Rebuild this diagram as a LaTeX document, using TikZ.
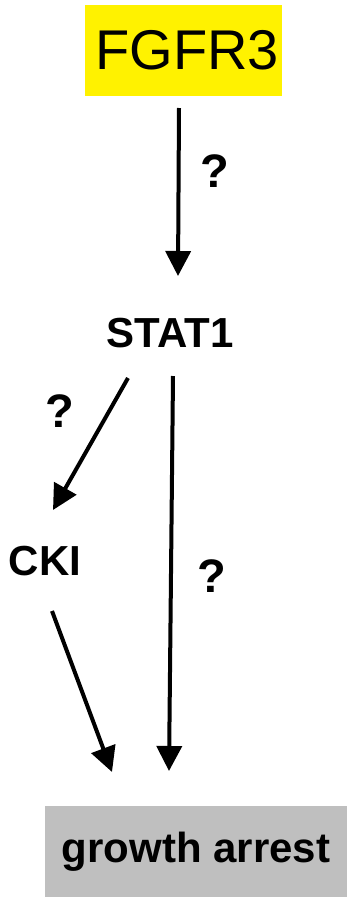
\documentclass[tikz,border=0pt]{standalone}
\usepackage{fontspec}
\setmainfont{Liberation Sans}
\usetikzlibrary{arrows.meta}
\begin{document}
\begin{tikzpicture}[x=1pt,y=-1pt,
  lbl/.style={font=\fontsize{42}{48}\selectfont\bfseries, inner sep=0pt},
  qmark/.style={font=\fontsize{47}{54}\selectfont\bfseries, inner sep=0pt},
  arr/.style={line width=4pt, -{Triangle[width=25pt,length=25pt]}}]
\useasboundingbox (0,0) rectangle (347,897);
\fill[white] (0,0) rectangle (347,897);
\node[fill=yellow, minimum width=197pt, minimum height=91pt, inner sep=0pt,
  font=\fontsize{56}{64}\selectfont] (fgfr) at (183.5,50.5) {\hspace{7pt}FGFR3};
\node[fill=black!25, minimum width=302pt, minimum height=91pt, inner sep=0pt,
  font=\fontsize{42}{48}\selectfont\bfseries] (ga) at (196,851.5) {growth arrest\hspace{9pt}};
\node[lbl] (stat) at (170,333) {STAT1};
\node[lbl] (cki) at (45,561) {CKI};
\node[qmark] (q1) at (214.5,171) {?};
\node[qmark] (q2) at (60,411) {?};
\node[qmark] (q3) at (212,576) {?};
\coordinate (a1s) at (179,108);
\coordinate (a1e) at (178,276);
\coordinate (a2s) at (128,378);
\coordinate (a2e) at (53,510);
\coordinate (a3s) at (173,376);
\coordinate (a3e) at (169,771);
\coordinate (a4s) at (52,611);
\coordinate (a4e) at (112,772);
\draw[arr] (a1s) -- (a1e);
\draw[arr] (a2s) -- (a2e);
\draw[arr] (a3s) -- (a3e);
\draw[arr] (a4s) -- (a4e);
\end{tikzpicture}
\end{document}
